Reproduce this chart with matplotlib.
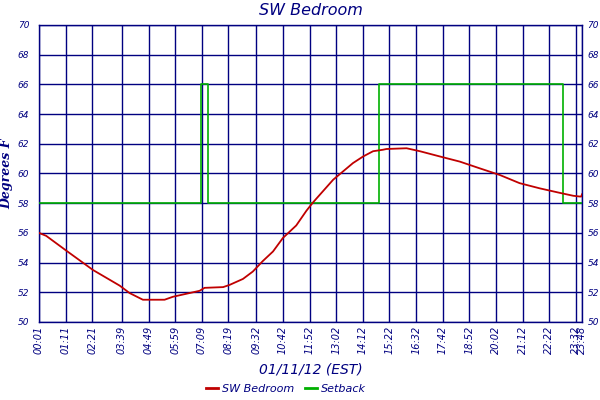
import matplotlib
matplotlib.use("Agg")
import matplotlib.pyplot as plt
from matplotlib.lines import Line2D

# ---- data ----
tick_labels = ["00:01", "01:11", "02:21", "03:39", "04:49", "05:59", "07:09", "08:19",
               "09:32", "10:42", "11:52", "13:02", "14:12", "15:22", "16:32", "17:42",
               "18:52", "20:02", "21:12", "22:22", "23:32", "23:48"]

temp_times = ["00:01", "00:20", "01:13", "02:23", "03:33", "03:59", "04:34", "05:31",
              "05:53", "06:28", "07:03", "07:16", "08:05", "08:22", "08:57", "09:23",
              "09:49", "10:16", "10:42", "11:17", "11:44", "12:01", "12:27", "12:54",
              "13:20", "13:46", "14:13", "14:39", "15:05", "15:14", "16:07", "16:42",
              "17:34", "18:27", "19:19", "20:12", "21:04", "21:57", "22:49", "23:25",
              "23:42", "23:46", "23:48"]
temp_vals = [56.0, 55.8, 54.8, 53.5, 52.45, 51.95, 51.5, 51.5,
             51.7, 51.9, 52.1, 52.3, 52.35, 52.5, 52.9, 53.4,
             54.1, 54.75, 55.66, 56.5, 57.5, 58.05, 58.8, 59.58,
             60.14, 60.7, 61.15, 61.5, 61.6, 61.65, 61.7, 61.5,
             61.15, 60.8, 60.35, 59.9, 59.35, 59.0, 58.7, 58.5,
             58.45, 58.45, 58.6]

setback_times = ["00:01", "07:08", "07:25", "14:55", "22:59", "23:48"]
setback_vals = [58, 66, 58, 66, 58, 58]

y_ticks = [50, 52, 54, 56, 58, 60, 62, 64, 66, 68, 70]


def to_min(s):
    h, m = s.split(":")
    return int(h) * 60 + int(m)


navy = "#000080"
red = "#C00000"
green = "#00B000"

fig = plt.figure(figsize=(6, 4), dpi=100)
ax = fig.add_axes([39 / 600, 1 - 322 / 400, (582 - 39) / 600, (322 - 25) / 400])

tx = [to_min(t) for t in tick_labels]
ax.set_xlim(tx[0], tx[-1])
ax.set_ylim(50, 70)

ax.set_xticks(tx)
ax.set_xticklabels(tick_labels, rotation=90, fontstyle="italic", color=navy, fontsize=7)
ax.set_yticks(y_ticks)
ax.set_yticklabels([str(v) for v in y_ticks], fontstyle="italic", color=navy, fontsize=6.5)
ax.tick_params(axis="both", length=0)
ax.tick_params(axis="x", pad=3)
ax.tick_params(axis="y", pad=7)

ax2 = ax.twinx()
ax2.set_ylim(50, 70)
ax2.set_yticks(y_ticks)
ax2.set_yticklabels([str(v) for v in y_ticks], fontstyle="italic", color=navy, fontsize=6.5)
ax2.tick_params(axis="y", length=0, pad=4)
for sp in ax2.spines.values():
    sp.set_visible(False)

ax.grid(True, color=navy, linewidth=1.0)
ax.set_axisbelow(True)
for sp in ax.spines.values():
    sp.set_color(navy)
    sp.set_linewidth(1.0)

ax.plot([to_min(t) for t in setback_times], setback_vals, drawstyle="steps-post",
        color=green, linewidth=1.2, zorder=3)
ax.plot([to_min(t) for t in temp_times], temp_vals, color=red, linewidth=1.3, zorder=4)

ax.set_title("SW Bedroom", fontstyle="italic", color=navy, fontsize=11.5, pad=7)
ax.set_xlabel("01/11/12 (EST)", fontstyle="italic", color=navy, fontsize=10, labelpad=6)
ax.set_ylabel("Degrees F", fontstyle="italic", fontweight="bold", family="DejaVu Serif",
              color=navy, fontsize=9)
ax.yaxis.set_label_coords(-0.047, 0.5)

handles = [Line2D([], [], color=red, linewidth=2), Line2D([], [], color=green, linewidth=2)]
leg = fig.legend(handles, ["SW Bedroom", "Setback"], loc="center", bbox_to_anchor=(286 / 600, 1 - 389 / 400),
                 ncol=2, frameon=False, handlelength=1.1, handletextpad=0.3, columnspacing=1.0,
                 prop={"style": "italic", "size": 8})
for t in leg.get_texts():
    t.set_color(navy)

fig.savefig("out.png", dpi=100)
